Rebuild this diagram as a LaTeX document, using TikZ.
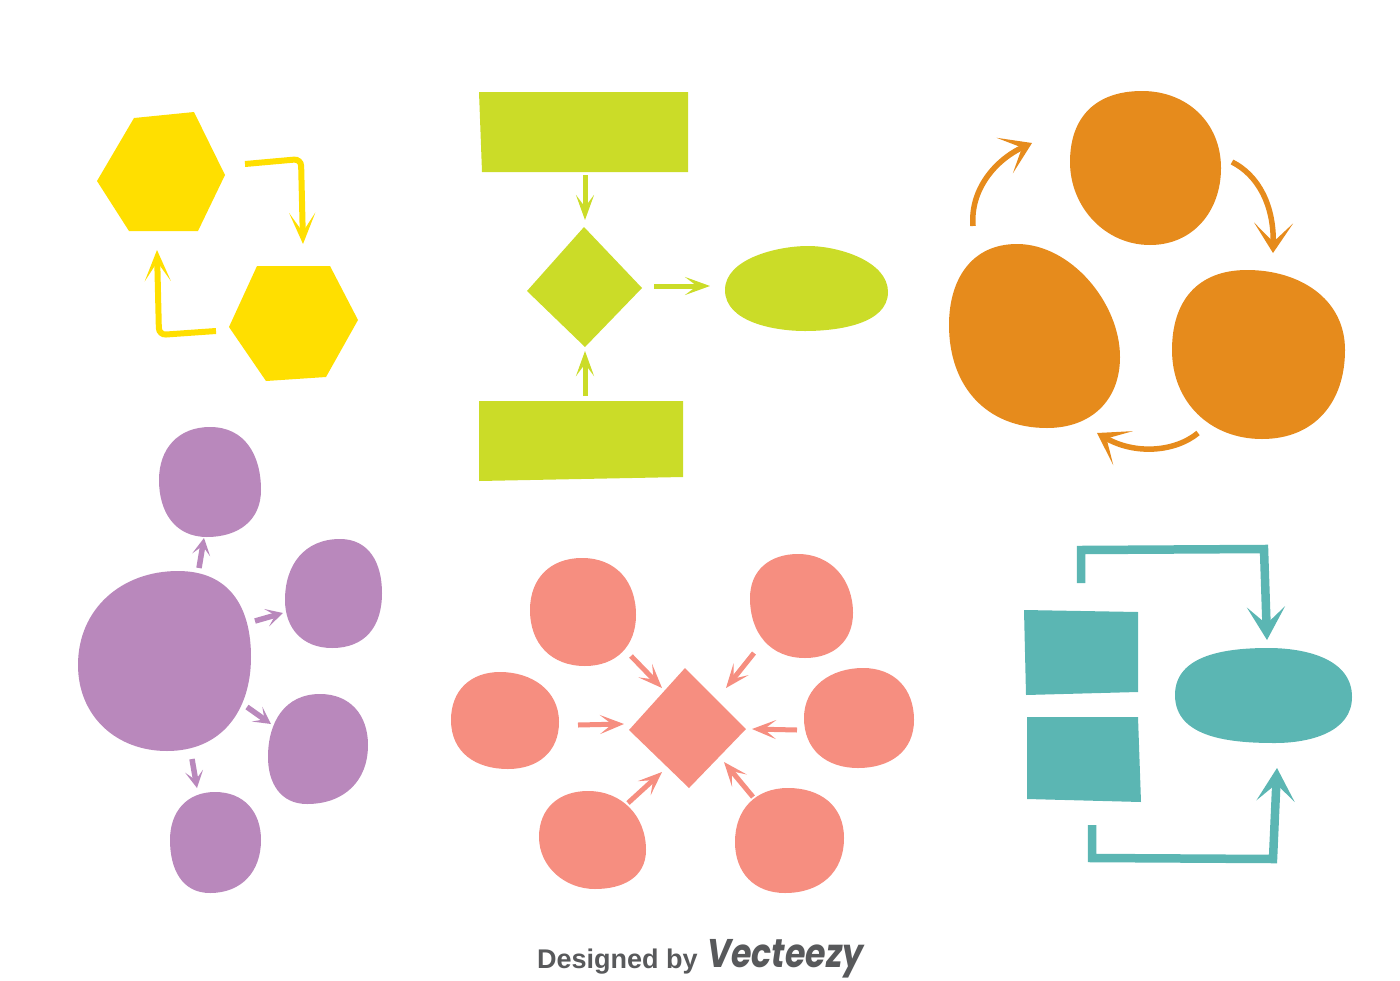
\documentclass[tikz,border=0pt]{standalone}
\usepackage{fontspec}
\setmainfont{Liberation Sans}
\newfontfamily\logofont[BoldFeatures={FakeBold=1.5}]{Poppins}
\usetikzlibrary{arrows.meta}
\definecolor{hexyellow}{HTML}{FFDF00}
\definecolor{limegreen}{HTML}{CBDC28}
\definecolor{amber}{HTML}{E68B1C}
\definecolor{lilac}{HTML}{B988BC}
\definecolor{salmon}{HTML}{F68E80}
\definecolor{tealish}{HTML}{5BB6B3}
\definecolor{logogray}{HTML}{58595B}
\newcommand{\blobshape}[9]{\fill[blob=#1] (#2) to[out=0,in=90,looseness=#6] (#3) to[out=-90,in=0,looseness=#7] (#4) to[out=180,in=-90,looseness=#8] (#5) to[out=90,in=180,looseness=#9] (#2) -- cycle;}
\tikzset{
	blob/.style={fill=#1,draw=none},
	yarrow/.style={draw=hexyellow,line width=6pt,rounded corners=7pt,-{Stealth[length=31pt,width=26pt,inset=19pt]}},
	garrow/.style={draw=limegreen,line width=5pt,-{Stealth[length=25pt,width=18pt,inset=12pt]}},
	oarrow/.style={draw=amber,line width=5.5pt,-{Stealth[length=30pt,width=39pt,inset=19pt]}},
	parrow/.style={draw=lilac,line width=5.5pt,-{Stealth[length=17pt,width=18pt,inset=9pt]}},
	sarrow/.style={draw=salmon,line width=5pt,-{Stealth[length=24pt,width=19pt,inset=12pt]}},
	tarrow/.style={draw=tealish,line width=8.5pt,-{Stealth[length=33pt,width=38pt,inset=17pt]}}
}
\begin{document}
\begin{tikzpicture}[x=1pt,y=-1pt]
	\useasboundingbox (0,0) rectangle (1400,980);

	\fill[blob=hexyellow] (134,118) -- (194,112) -- (225,175) -- (198,231) -- (129,231) -- (97,181) -- cycle;
	\fill[blob=hexyellow] (257,266) -- (330,266) -- (358,320) -- (326,377) -- (266,381) -- (229,327) -- cycle;
	\coordinate (hexa1) at (245,164);
	\coordinate (hexb1) at (303,244);
	\coordinate (hexb2) at (216,331);
	\coordinate (hexa2) at (157,250);
	\draw[yarrow] (hexa1) -- (301,159) -- (hexb1);
	\draw[yarrow] (hexb2) -- (159,335) -- (hexa2);

	\fill[blob=limegreen] (479,92) -- (688,92) -- (688,172) -- (482,172) -- cycle;
	\fill[blob=limegreen] (479,401) -- (683,401) -- (683,477) -- (479,481) -- cycle;
	\fill[blob=limegreen] (584,227) -- (642,288) -- (585,347) -- (527,291) -- cycle;
	\blobshape{limegreen}{808,246}{888,292}{805,331}{725,290}{.85}{.9}{.9}{.85}
	\coordinate (topbox) at (585,175);
	\coordinate (choicetop) at (585,220);
	\coordinate (botbox) at (585,396);
	\coordinate (choicebot) at (585,351);
	\coordinate (choiceright) at (654,286);
	\coordinate (pill) at (710,286);
	\draw[garrow] (topbox) -- (choicetop);
	\draw[garrow] (botbox) -- (choicebot);
	\draw[garrow] (choiceright) -- (pill);

	\blobshape{amber}{1142,91}{1221,168}{1150,245}{1070,162}{1.05}{1.05}{1}{1.15}
	\blobshape{amber}{1017,244}{1120,357}{1047,428}{949,325}{.9}{1.1}{1.1}{1.1}
	\blobshape{amber}{1247,270}{1345,350}{1262,439}{1172,350}{1.05}{1.1}{1.05}{1.15}
	\coordinate (roundtop1) at (1232,162);
	\coordinate (roundright) at (1273,253);
	\coordinate (roundright2) at (1198,433);
	\coordinate (roundleft) at (1097,433);
	\coordinate (roundleft2) at (973,226);
	\coordinate (roundtop2) at (1032,143);
	\draw[oarrow] (roundtop1) .. controls (1258,175) and (1274,205) .. (roundright);
	\draw[oarrow] (roundright2) .. controls (1175,452) and (1135,455) .. (roundleft);
	\draw[oarrow] (roundleft2) .. controls (970,190) and (995,160) .. (roundtop2);

	\blobshape{lilac}{178,571}{251,657}{167,751}{78,665}{1.15}{1.1}{1.05}{1.05}
	\blobshape{lilac}{210,427}{261,490}{207,537}{159,480}{1.1}{1.1}{1.1}{1.1}
	\blobshape{lilac}{340,539}{382,593}{332,648}{285,600}{1.1}{1.15}{1.1}{1.1}
	\blobshape{lilac}{320,694}{368,745}{307,804}{268,757}{1.1}{1.1}{1.1}{1.1}
	\blobshape{lilac}{215,792}{261,840}{210,893}{170,840}{1.1}{1.1}{1.1}{1.1}
	\coordinate (hub1) at (199,568);
	\coordinate (spoketop) at (204,538);
	\coordinate (hub2) at (255,621);
	\coordinate (spokeright) at (283,613);
	\coordinate (hub3) at (247,707);
	\coordinate (spokelow) at (271,724);
	\coordinate (hub4) at (192,759);
	\coordinate (spokebot) at (197,788);
	\draw[parrow] (hub1) -- (spoketop);
	\draw[parrow] (hub2) -- (spokeright);
	\draw[parrow] (hub3) -- (spokelow);
	\draw[parrow] (hub4) -- (spokebot);

	\fill[blob=salmon] (685,668) -- (746,729) -- (689,788) -- (629,730) -- cycle;
	\blobshape{salmon}{582,558}{636,615}{585,666}{530,610}{1.1}{1.1}{1.1}{1.1}
	\blobshape{salmon}{798,554}{853,613}{805,658}{750,598}{1.05}{1.1}{1.1}{1.1}
	\blobshape{salmon}{500,672}{559,722}{508,769}{451,720}{1.05}{1.1}{1.1}{1.1}
	\blobshape{salmon}{863,668}{914,720}{858,768}{804,718}{1.1}{1.1}{1.1}{1.05}
	\blobshape{salmon}{588,791}{646,850}{595,889}{539,837}{1.05}{1.1}{1}{1.1}
	\blobshape{salmon}{788,788}{844,838}{785,893}{735,842}{1.1}{1.1}{1.1}{1.1}
	\coordinate (petal1) at (631,656);
	\coordinate (core1) at (662,688);
	\coordinate (petal2) at (754,653);
	\coordinate (core2) at (726,688);
	\coordinate (petal3) at (578,725);
	\coordinate (core3) at (624,724);
	\coordinate (petal4) at (797,730);
	\coordinate (core4) at (752,729);
	\coordinate (petal5) at (628,803);
	\coordinate (core5) at (662,772);
	\coordinate (petal6) at (753,797);
	\coordinate (core6) at (724,762);
	\foreach \i in {1,...,6}
		\draw[sarrow] (petal\i) -- (core\i);

	\fill[blob=tealish] (1024,610) -- (1138,612) -- (1138,692) -- (1026,695) -- cycle;
	\fill[blob=tealish] (1027,717) -- (1138,717) -- (1141,802) -- (1027,799) -- cycle;
	\blobshape{tealish}{1268,648}{1352,697}{1275,743}{1175,695}{1}{1}{1}{1}
	\coordinate (boxa) at (1081,583);
	\coordinate (tub1) at (1267,640);
	\coordinate (boxb) at (1092,825);
	\coordinate (tub2) at (1277,768);
	\draw[tarrow] (boxa) -- (1081,550) -- (1264,549) -- (tub1);
	\draw[tarrow] (boxb) -- (1092,858) -- (1273,859) -- (tub2);

	\node[anchor=base west,inner sep=0pt,text=logogray,font=\fontsize{27}{30}\selectfont\bfseries] (designed) at (537,968) {Designed by};
	\node[anchor=base west,inner sep=0pt,text=logogray,xscale=.83,font=\fontsize{40}{44}\logofont\bfseries\itshape] (vecteezy) at (707,967) {Vecteezy};
\end{tikzpicture}
\end{document}
